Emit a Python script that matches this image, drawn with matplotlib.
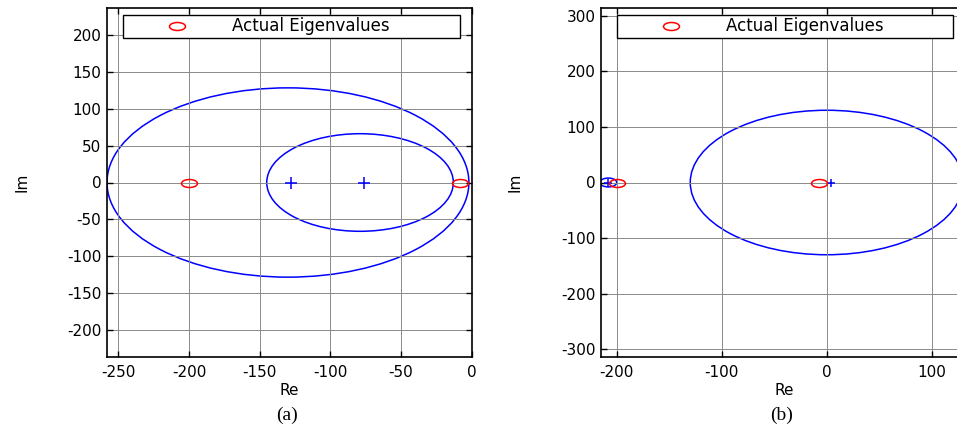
import numpy as np
import matplotlib

matplotlib.use("Agg")
import matplotlib.pyplot as plt
from matplotlib.patches import Circle
from matplotlib.path import Path
from matplotlib.transforms import Affine2D

# panel (a): disc centres / radii, estimated centres (+), actual eigenvalues (o)
a_centers = [-130, -79]
a_radii = [128, 66]
a_est = [-128, -76]
a_actual = [-200, -8]

# panel (b)
b_centers = [-208, 0]
b_radii = [8, 130]
b_est = [-208, 4]
b_actual = [-200, -7]

a_xticks = [-250, -200, -150, -100, -50, 0]
a_yticks = [-200, -150, -100, -50, 0, 50, 100, 150, 200]
b_xticks = [-200, -100, 0, 100]
b_yticks = [-300, -200, -100, 0, 100, 200, 300]

plt.rcParams["font.family"] = ["DejaVu Sans"]
plt.rcParams["axes.unicode_minus"] = False

W, H = 957, 430
fig = plt.figure(figsize=(W / 100, H / 100), dpi=100)

# squashed circle marker (original figure was stretched horizontally)
ell = Path.unit_circle().transformed(Affine2D().scale(1.0, 0.5))


def px_axes(l, r, t, b):
    return fig.add_axes([l / W, 1 - b / H, (r - l) / W, (b - t) / H])


def draw_panel(ax, centers, radii, est, actual, xlim, ylim, xticks, yticks, leg_bbox, plus_ms):
    for c, r in zip(centers, radii):
        ax.add_patch(Circle((c, 0), r, fill=False, edgecolor="#0000ff", linewidth=1.1))
    ax.plot(est, np.zeros(len(est)), ls="none", marker="+", ms=plus_ms, mew=1.1, color="#0000ff")
    ax.plot(actual, np.zeros(len(actual)), ls="none", marker=ell, ms=11.5, mew=1.1,
            mfc="none", mec="#ff0000", label="Actual Eigenvalues")
    ax.set_xlim(*xlim)
    ax.set_ylim(*ylim)
    ax.set_xticks(xticks)
    ax.set_yticks(yticks)
    ax.grid(True, color="#8a8a8a", linestyle="-", linewidth=0.7)
    ax.tick_params(direction="in", top=True, right=True, length=4, width=1,
                   labelsize=11, colors="black")
    ax.tick_params(axis="x", pad=6)
    ax.tick_params(axis="y", pad=4)
    for s in ax.spines.values():
        s.set_linewidth(1.2)
    ax.set_xlabel("Re", fontsize=11)
    ax.set_ylabel("Im", fontsize=11)
    ax.xaxis.set_label_coords(0.5, -0.075)
    ax.yaxis.set_label_coords(-0.213, 0.5)
    leg = ax.legend(loc="upper left", bbox_to_anchor=leg_bbox, mode="expand",
                    borderaxespad=0, fontsize=12, numpoints=1, fancybox=False,
                    handlelength=6.2, handletextpad=0.2, borderpad=0.15)
    leg.get_frame().set_edgecolor("black")
    leg.get_frame().set_linewidth(1.0)
    leg.get_frame().set_alpha(1)


ax1 = px_axes(107, 472, 8, 357)
draw_panel(ax1, a_centers, a_radii, a_est, a_actual, (-258, 0.2), (-236, 236),
           a_xticks, a_yticks, (0.044, 0.911, 0.923, 0.069), 9)

ax2 = px_axes(601, 968.5, 8, 357)
draw_panel(ax2, b_centers, b_radii, b_est, b_actual, (-215, 135), (-314, 314),
           b_xticks, b_yticks, (0.0435, 0.911, 0.914, 0.069), 6)

fig.text(287 / W, 1 - 415 / H, "(a)", family="Liberation Serif", fontsize=14,
         ha="center", va="center")
fig.text(782 / W, 1 - 415 / H, "(b)", family="Liberation Serif", fontsize=14,
         ha="center", va="center")

fig.savefig("out.png", dpi=100)
